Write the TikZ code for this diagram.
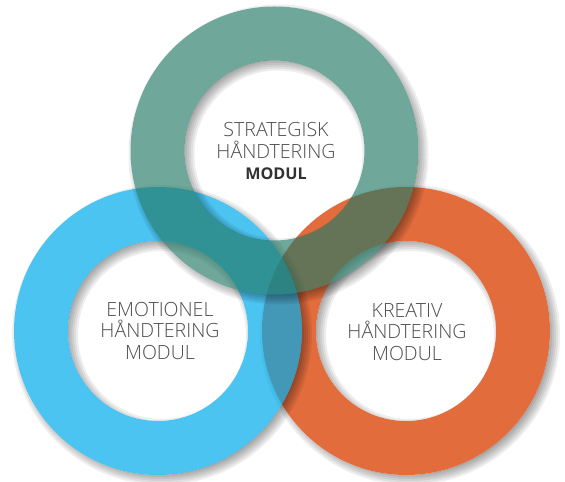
\documentclass[tikz,border=0pt]{standalone}
\usepackage{fontspec}
\setmainfont{Open Sans}
\newfontfamily\thinfont{Open Sans Light}
\usepackage{tikz}

\definecolor{ringteal}{RGB}{34,120,101}
\definecolor{ringblue}{RGB}{0,171,236}
\definecolor{ringorange}{RGB}{227,108,61}
\definecolor{ringtext}{RGB}{77,77,77}
\definecolor{boldtext}{RGB}{50,50,50}

\tikzset{
  shade ring/.style={fill=black, fill opacity=0.065, even odd rule},
  modtext/.style={align=center, text=ringtext, font=\thinfont\fontsize{16.7}{18.7}\selectfont},
}

\begin{document}
\begin{tikzpicture}[x=0.03cm, y=0.03cm]
\fill[white] (0,0) rectangle (565,482);
\useasboundingbox (0,0) rectangle (565,482);

\begin{scope}[even odd rule]
\clip (0,0) rectangle (565,482) (406,151) circle (144) (406,151) circle (90);
\foreach \d in {-6,-4,...,6} \path[shade ring] (410,147) circle (144+\d) (410,147) circle (90-\d);
\end{scope}
\fill[ringorange, even odd rule] (406,151) circle (144) (406,151) circle (90);

\begin{scope}[even odd rule]
\clip (0,0) rectangle (565,482) (158,151) circle (144) (158,151) circle (90);
\foreach \d in {-6,-4,...,6} \path[shade ring] (162,147) circle (144+\d) (162,147) circle (90-\d);
\end{scope}
\fill[ringblue, fill opacity=0.7, even odd rule] (158,151) circle (144) (158,151) circle (90);

\begin{scope}[even odd rule]
\clip (0,0) rectangle (565,482) (274.5,331.5) circle (144) (274.5,331.5) circle (90);
\foreach \d in {-6,-4,...,6} \path[shade ring] (278.5,327.5) circle (144+\d) (278.5,327.5) circle (90-\d);
\end{scope}
\fill[ringteal, fill opacity=0.65, even odd rule] (274.5,331.5) circle (144) (274.5,331.5) circle (90);

\node[modtext] (strategisk) at (276,331) {STRATEGISK\\HÅNDTERING\\{\rmfamily\bfseries\fontsize{13.8}{18.7}\selectfont\color{boldtext}MODUL}};
\node[modtext] (emotionel) at (160,151) {EMOTIONEL\\HÅNDTERING\\MODUL};
\node[modtext] (kreativ) at (407,150) {KREATIV\\HÅNDTERING\\MODUL};

\end{tikzpicture}
\end{document}
